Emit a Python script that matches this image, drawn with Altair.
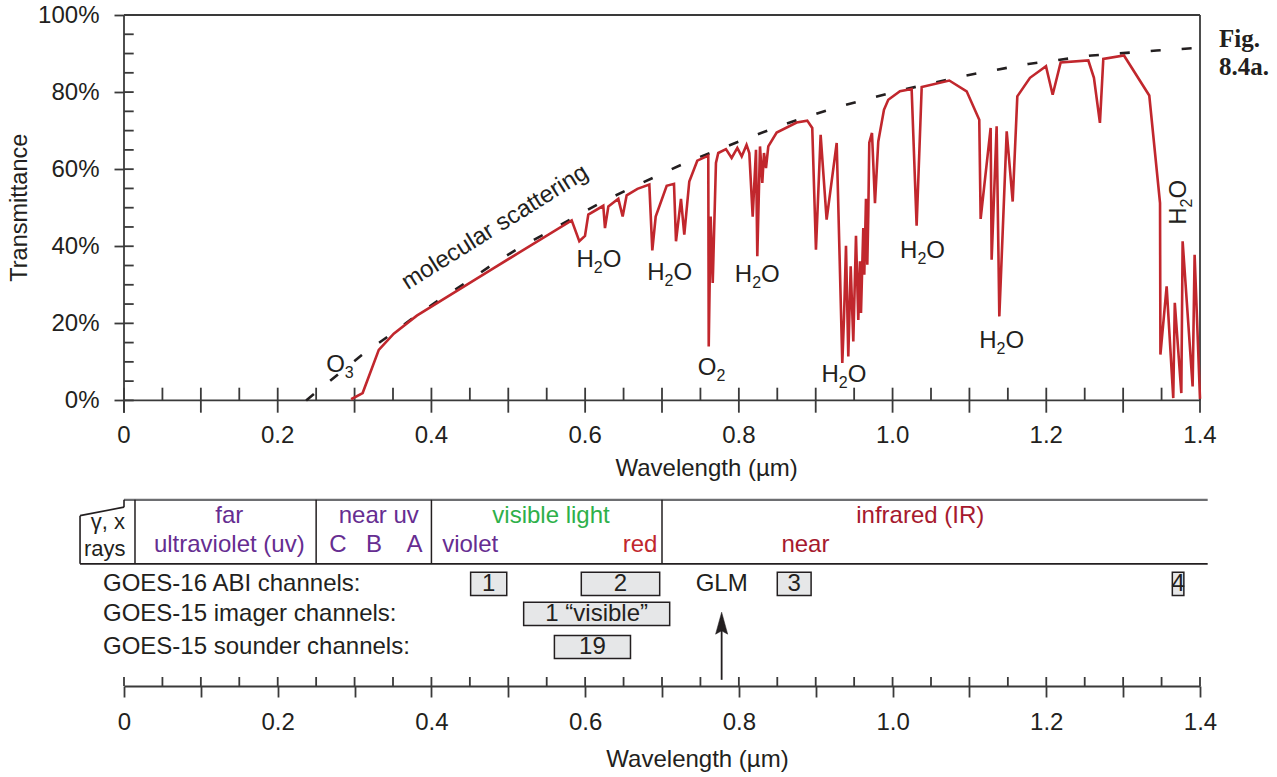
import altair as alt
import pandas as pd

# ---------------- data ----------------
wavelength = [0.2955, 0.3105, 0.3315, 0.351, 0.381, 0.48, 0.5825, 0.5924, 0.5998, 0.6041,
              0.6236, 0.6258, 0.6302, 0.6432, 0.6488, 0.654, 0.668, 0.6835, 0.6874, 0.6918,
              0.7061, 0.7156, 0.7182, 0.7247, 0.729, 0.7355, 0.7459, 0.7602, 0.7608, 0.7633,
              0.766, 0.7702, 0.7732, 0.7832, 0.7906, 0.798, 0.8037, 0.810, 0.8136, 0.818,
              0.8223, 0.824, 0.8275, 0.8305, 0.8327, 0.8353, 0.8383, 0.8492, 0.8752, 0.889,
              0.8955, 0.9003, 0.9064, 0.9142, 0.9273, 0.9346, 0.9368, 0.9394, 0.9424, 0.9455,
              0.9489, 0.9524, 0.9554, 0.9576, 0.9589, 0.9619, 0.9632, 0.9654, 0.9671, 0.9684,
              0.9697, 0.9732, 0.9771, 0.9814, 0.9888, 0.9944, 1.0096, 1.0248, 1.0313, 1.0379,
              1.0738, 1.0964, 1.1128, 1.1146, 1.1276, 1.1289, 1.1354, 1.1389, 1.1485, 1.1563,
              1.1623, 1.1788, 1.1996, 1.2083, 1.2187, 1.2547, 1.262, 1.2698, 1.2742, 1.3011,
              1.334, 1.348, 1.3485, 1.3566, 1.3652, 1.3672, 1.3757, 1.3774, 1.3904, 1.393, 1.4]
transmittance = [0.3, 1.9, 13.1, 17.3, 22.0, 34.2, 46.7, 41.3, 42.7, 48.2,
                 50.5, 44.7, 50.3, 52.3, 47.7, 53.2, 54.9, 56.0, 38.9, 47.7,
                 55.7, 56.2, 41.3, 52.3, 43.0, 56.8, 62.2, 63.5, 14.0, 47.7,
                 30.5, 61.6, 64.2, 65.2, 62.9, 65.5, 63.3, 66.3, 64.2, 47.7,
                 65.0, 37.4, 65.9, 56.4, 64.2, 60.3, 65.9, 69.5, 72.1, 72.6,
                 70.7, 39.1, 68.9, 46.9, 66.8, 9.7, 21.4, 40.1, 11.4, 34.8,
                 15.3, 42.7, 20.9, 36.1, 22.7, 44.7, 32.6, 52.3, 35.2, 48.2,
                 66.9, 69.4, 51.2, 67.2, 75.4, 78.0, 80.2, 80.8, 45.3, 81.3,
                 83.0, 80.2, 72.8, 47.1, 70.7, 36.5, 71.1, 21.8, 69.8, 51.6,
                 78.9, 83.7, 86.7, 79.3, 87.7, 88.2, 83.7, 72.0, 88.6, 89.5,
                 79.1, 51.2, 11.9, 29.6, 0.6, 25.3, 1.9, 41.3, 3.6, 37.8, 0.4]

scatter_wl = [0.237, 0.309, 0.342, 0.376, 0.4103, 0.4459, 0.4805, 0.5152, 0.552, 0.588,
              0.6245, 0.6618, 0.6995, 0.737, 0.7767, 0.8145, 0.8535, 0.891, 0.9316, 0.9728,
              1.014, 1.0551, 1.0955, 1.1354, 1.1766, 1.2178, 1.259, 1.30, 1.3435, 1.3848, 1.4]
scatter_tr = [0.0, 11.7, 16.4, 21.4, 26.1, 30.7, 35.4, 39.7, 43.7, 47.8,
              51.7, 55.3, 58.8, 62.2, 65.3, 68.3, 71.2, 73.8, 76.3, 78.5,
              80.6, 82.5, 84.3, 85.8, 87.3, 88.4, 89.5, 90.1, 90.8, 91.3, 91.5]

channel_names = ["1", "2", "3", "4", "1 \u201cvisible\u201d", "19"]
channel_start = [0.451, 0.595, 0.850, 1.364, 0.520, 0.560]
channel_end = [0.498, 0.697, 0.894, 1.379, 0.710, 0.659]
channel_row = ["abi", "abi", "abi", "abi", "imager", "sounder"]
row_names = ["GOES-16 ABI channels:", "GOES-15 imager channels:", "GOES-15 sounder channels:"]

band_edges = [0.0143, 0.25, 0.40, 0.70]
glm_wavelength = 0.7776

# absorption labels: (molecule, subscript, trailing, wavelength, transmittance, vertical?)
absorb_main = ["H", "H", "H", "H", "H", "H", "H", "O", "O"]
absorb_sub = ["2", "2", "2", "2", "2", "2", "2", "2", "3"]
absorb_tail = ["O", "O", "O", "O", "O", "O", "O", "", ""]
absorb_x = [0.618, 0.710, 0.824, 0.9367, 1.039, 1.142, 1.3726, 0.7646, 0.281]
absorb_y = [36.5, 33.1, 32.6, 6.7, 38.7, 15.3, 51.4, 8.4, 9.2]
absorb_vertical = [False, False, False, False, False, False, True, False, False]

# ---------------- layout ----------------
W, H = 1076, 671
PPU = 3.854                       # pixels per transmittance percent
PPX = W / 1.4                     # pixels per micrometre
Y_MIN = 100 - H / PPU
FONT = "Liberation Sans, Arial, Helvetica, sans-serif"
S = 24
SUB = 16
AX = "#3a3a3a"
TXT = "#231f20"
RED = "#c1272d"
PURPLE = "#662d91"
GREEN = "#2eb04a"
DARKRED = "#a6192e"

BAND_TOP = -25.8
BAND_BOT = -42.4
GAM_TOP = -27.7
GAM_BOT = -29.9
GAM_L = -0.0572
ROW1 = -30.0
ROW2 = -37.5
ROWS = {"abi": -47.6, "imager": -55.4, "sounder": -64.0}
BOX_H = 3.0
TOP_LAB = -9.2
TOP_TITLE = -17.8
TICK_UP = 12.7 / PPU
TICK_DN = 12.3 / PPU
YT_IN = 9.7 / PPX

xscale = alt.Scale(domain=[0, 1.4], nice=False, zero=False)
yscale = alt.Scale(domain=[Y_MIN, 100], nice=False, zero=False)

x_axis = alt.Axis(
    values=[round(0.1 * i, 1) for i in range(15)],
    labelExpr="(round(datum.value*10) % 2 == 0) ? (datum.value == 0 ? '0' : format(datum.value, '.1f')) : ''",
    labelFlush=False, labelOverlap=False,
    tickSize=11, tickColor=AX, tickWidth=1.8,
    domainColor=AX, domainWidth=1.8, grid=False,
    labelFont=FONT, labelFontSize=S, labelColor=TXT, labelPadding=13,
    title="Wavelength (\u00b5m)", titleFont=FONT, titleFontSize=S,
    titleFontWeight="normal", titleColor=TXT, titlePadding=13, titleX=573,
)
y_axis = alt.Axis(
    values=[0, 20, 40, 60, 80, 100], labelExpr="datum.value + '%'",
    tickSize=10, tickColor=AX, tickWidth=1.8, domain=False, grid=False,
    labelFont=FONT, labelFontSize=S, labelColor=TXT, labelPadding=15,
    title=None,
)
X = alt.X("x:Q", scale=xscale, axis=x_axis)
Y = alt.Y("y:Q", scale=yscale, axis=y_axis)

# ---------------- segments (frame, ticks, band box) ----------------
segs = []
def seg(x, y, x2, y2, c=AX, w=1.8):
    segs.append({"x": x, "y": y, "x2": x2, "y2": y2, "c": c, "w": w})

seg(0, 100, 0, -TICK_DN)
seg(0, 100, 1.4, 100)
seg(1.4, 100, 1.4, 0)
seg(0, 0, 1.4, 0)
for v in range(0, 101, 5):
    seg(0, v, YT_IN, v)
for i in range(29):
    v = i * 0.05
    seg(v, TICK_UP, v, -TICK_DN if i % 2 == 0 else 0)
    seg(v, Y_MIN, v, Y_MIN + 9 / PPU)
seg(0, BAND_TOP, 1.41, BAND_TOP, "#6d6e71", 2.2)
seg(0, BAND_TOP, 0, GAM_TOP, TXT, 1.6)
seg(0, GAM_TOP, GAM_L, GAM_BOT, TXT, 1.6)
seg(GAM_L, GAM_BOT, GAM_L, BAND_BOT, TXT, 1.6)
seg(GAM_L, BAND_BOT, 1.41, BAND_BOT, TXT, 1.8)
for e in band_edges:
    seg(e, BAND_TOP, e, BAND_BOT, TXT, 1.5)
seg(glm_wavelength, Y_MIN + 1.6, glm_wavelength, -59.5, TXT, 1.8)
seg_df = pd.DataFrame(segs)

rules = alt.Chart(seg_df).mark_rule().encode(
    x=X, y=Y, x2="x2:Q", y2="y2:Q",
    color=alt.Color("c:N", scale=None),
    strokeWidth=alt.StrokeWidth("w:Q", scale=None),
)

# ---------------- curves ----------------
curve_df = pd.DataFrame({"x": wavelength, "y": transmittance, "o": range(len(wavelength))})
scat_df = pd.DataFrame({"x": scatter_wl, "y": scatter_tr, "o": range(len(scatter_wl))})

scat = alt.Chart(scat_df).mark_line(color=TXT, strokeWidth=2.6, strokeDash=[10, 21]).encode(
    x=X, y=Y, order="o:Q")
curve = alt.Chart(curve_df).mark_line(color=RED, strokeWidth=2.6).encode(
    x=X, y=Y, order="o:Q")

# ---------------- channel boxes ----------------
ch_df = pd.DataFrame({
    "x": channel_start, "x2": channel_end,
    "y": [ROWS[r] - BOX_H for r in channel_row],
    "y2": [ROWS[r] + BOX_H for r in channel_row],
})
boxes = alt.Chart(ch_df).mark_rect(fill="#e6e7e8", stroke=TXT, strokeWidth=1.5).encode(
    x=X, x2="x2:Q", y=Y, y2="y2:Q")

arrow_df = pd.DataFrame({"x": [glm_wavelength], "y": [-57.8]})
arrow = alt.Chart(arrow_df).mark_point(
    shape="M0,-1L0.55,1L0,0.7L-0.55,1Z", filled=True, fill=TXT, stroke=TXT,
    strokeWidth=0.5, size=484, opacity=1).encode(x=X, y=Y)

# ---------------- text ----------------
ct = []
def t(text, x, y, c=TXT, s=S, a=0):
    ct.append({"text": text, "x": x, "y": y, "c": c, "s": s, "a": a})

t("\u03b3, x", -0.021, -31.5, TXT, 22)
t("rays", -0.025, -38.6, TXT, 22)
t("far", 0.137, ROW1, PURPLE)
t("ultraviolet (uv)", 0.137, ROW2, PURPLE)
t("near uv", 0.3315, ROW1, PURPLE)
t("C", 0.2784, ROW2, PURPLE)
t("B", 0.3253, ROW2, PURPLE)
t("A", 0.378, ROW2, PURPLE)
t("visible light", 0.5556, ROW1, GREEN)
t("infrared (IR)", 1.036, ROW1, DARKRED)
t("near", 0.8866, ROW2, DARKRED)
for n, a0, b0, r in zip(channel_names, channel_start, channel_end, channel_row):
    t(n, (a0 + b0) / 2, ROWS[r])
t("GLM", glm_wavelength, ROWS["abi"])

# chemical formulas built from main letters and a lowered, smaller digit
GLYPH = {"H": 0.722, "O": 0.778, "2": 0.556, "3": 0.556}
for m, sub, tail, cx, cy, vert in zip(absorb_main, absorb_sub, absorb_tail,
                                      absorb_x, absorb_y, absorb_vertical):
    parts = [(m, S, 0.0), (sub, SUB, 8.0)] + ([(tail, S, 0.0)] if tail else [])
    widths = [GLYPH[p[0]] * p[1] for p in parts]
    total = sum(widths)
    pos = -total / 2
    for (ch, size, drop), w in zip(parts, widths):
        along = pos + w / 2
        pos += w
        if vert:
            t(ch, cx + drop / PPX, cy + along / PPU, TXT, size, 270)
        else:
            t(ch, cx + along / PPX, cy - drop / PPU, TXT, size, 0)

t("molecular scattering", 0.4827, 44.9, TXT, S, 328)
for i in range(8):
    v = round(0.2 * i, 1)
    t("0" if v == 0 else f"{v:.1f}", v, TOP_LAB)
t("Wavelength (\u00b5m)", 0.758, TOP_TITLE)
t("Transmittance", -0.1353, 50, TXT, 23.5, 270)
ct_df = pd.DataFrame(ct)

def text_layer(df, align):
    return alt.Chart(df).mark_text(align=align, baseline="middle", font=FONT).encode(
        x=X, y=Y, text="text:N",
        color=alt.Color("c:N", scale=None),
        size=alt.Size("s:Q", scale=None),
        angle=alt.Angle("a:Q", scale=None),
    )

center_text = text_layer(ct_df, "center")

left_df = pd.DataFrame({
    "text": ["violet"] + row_names,
    "x": [0.414, -0.0273, -0.0273, -0.0273],
    "y": [ROW2, ROWS["abi"], ROWS["imager"], ROWS["sounder"]],
    "c": [PURPLE, TXT, TXT, TXT], "s": [S, S, S, S], "a": [0, 0, 0, 0],
})
left_text = text_layer(left_df, "left")
right_df = pd.DataFrame({"text": ["red"], "x": [0.694], "y": [ROW2], "c": [RED], "s": [S], "a": [0]})
right_text = text_layer(right_df, "right")

fig_df = pd.DataFrame({"text": ["Fig.", "8.4a."], "x": [1.4247, 1.4247], "y": [91.8, 84.4]})
fig_text = alt.Chart(fig_df).mark_text(
    align="left", baseline="alphabetic", font="Liberation Serif, Times New Roman, serif",
    fontWeight="bold", fontSize=25, color=TXT).encode(x=X, y=Y, text="text:N")

chart = alt.layer(
    rules, boxes, scat, curve, arrow, center_text, left_text, right_text, fig_text
).properties(
    width=W, height=H,
    autosize=alt.AutoSizeParams(type="none"),
    padding={"left": 124, "top": 15, "right": 77, "bottom": 91},
    background="white",
).configure_view(strokeWidth=0)

chart.save("out.html", embed_options={"renderer": "svg", "actions": False})
